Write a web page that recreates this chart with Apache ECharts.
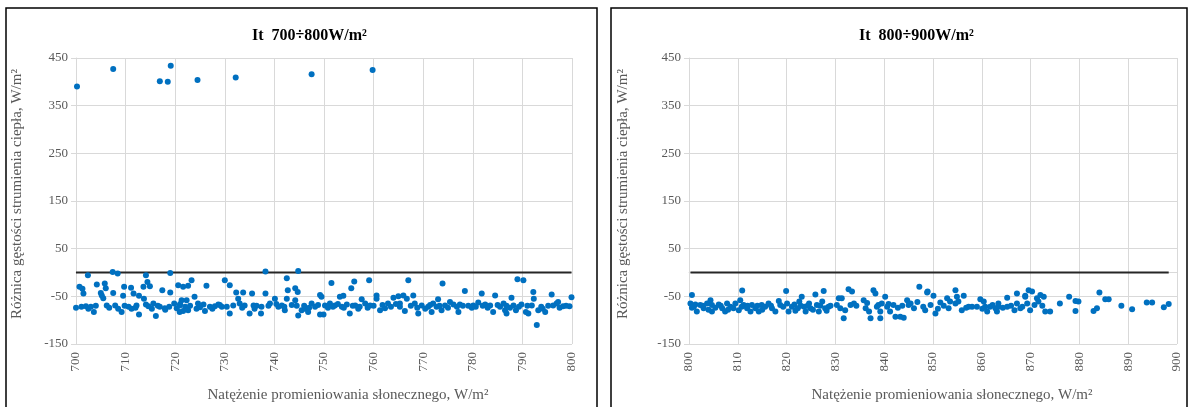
<!DOCTYPE html>
<html>
<head>
<meta charset="utf-8">
<script src="https://cdn.jsdelivr.net/npm/echarts@6/dist/echarts.min.js"></script>
<style>
  html, body { margin: 0; padding: 0; background: #fff; }
  #chart { width: 1190px; height: 407px; }
</style>
</head>
<body>
<div id="chart"></div>
<script>
// Panel titles and axis captions
const panelTitles = ['It  700÷800W/m²', 'It  800÷900W/m²'];
const yAxisName = 'Różnica gęstości strumienia ciepła, W/m²';
const xAxisName = 'Natężenie promieniowania słonecznego, W/m²';

// Axis ranges: [min, max, step]
const xRange700 = [700, 800, 10];
const xRange800 = [800, 900, 10];
const yRange = [-150, 450, 100];

// Measured points for irradiance 700–800 W/m²: [irradiance, heat flux difference]
const points700 = [
  [700.2, 390], [707.5, 427], [716.9, 401], [718.5, 400], [719.1, 434], [724.5, 404],
  [732.2, 409], [747.5, 416], [759.8, 425],
  [700.0, -74], [700.7, -30], [701.3, -34], [701.5, -44], [701.1, -72], [702.0, -71],
  [702.5, -76], [703.6, -83], [702.4, -6], [704.2, -25], [705.0, -43], [705.2, -48],
  [705.5, -54], [705.8, -23], [706.0, -33], [706.2, -69], [706.7, -74], [707.4, 1],
  [708.4, -2], [707.5, -43], [707.9, -69], [708.5, -76], [709.2, -83], [709.5, -49],
  [709.7, -30], [711.1, -32], [711.6, -44], [710.6, -72], [711.2, -76], [712.2, -69],
  [712.7, -49], [712.7, -88], [714.1, -6], [714.4, -20], [714.9, -29], [713.6, -30],
  [713.7, -55], [714.1, -67], [714.6, -71], [715.3, -76], [716.1, -91], [715.6, -65],
  [716.9, -72], [717.4, -37], [717.9, -75], [719.0, -1], [718.8, -72], [719.0, -42],
  [719.8, -65], [720.6, -27], [721.6, -30], [722.6, -28], [723.3, -16], [721.3, -58],
  [722.3, -58], [720.9, -69], [722.0, -72], [720.9, -83], [721.6, -81], [722.6, -79],
  [723.9, -51], [724.6, -65], [724.3, -76], [725.7, -67], [726.3, -28], [726.0, -81],
  [727.0, -72], [728.0, -71], [728.7, -67], [729.4, -72], [730.0, -16], [731.0, -27],
  [731.0, -86], [730.4, -72], [731.7, -69], [732.3, -42],
  [732.7, -55], [733.0, -65], [733.7, -42], [734.0, -69], [735.0, -86], [735.5, -44],
  [735.8, -69], [736.4, -70], [737.3, -86], [737.4, -72], [738.2, 2], [738.2, -44],
  [739.1, -65], [740.1, -55], [740.8, -72], [741.5, -69], [742.1, -79], [742.5, -12],
  [742.7, -37], [742.5, -55], [744.2, -33], [744.8, 3], [744.7, -41], [744.2, -58],
  [744.5, -70], [744.8, -90], [745.5, -79], [746.2, -76], [746.8, -83], [747.5, -65],
  [748.2, -72], [749.2, -47], [749.5, -51], [749.2, -88], [749.9, -88], [750.2, -69],
  [751.2, -65], [751.5, -22], [752.2, -69], [753.2, -51], [753.9, -49], [753.6, -72],
  [754.6, -67], [755.2, -86], [755.5, -33], [756.1, -19], [756.3, -69], [756.9, -76],
  [757.6, -56], [758.3, -65], [759.1, -16], [759.3, -69], [760.6, -48], [760.6, -55],
  [761.3, -79], [762.3, -75], [762.9, -65], [764.0, -53], [765.0, -50], [765.3, -72],
  [765.3, -65], [766.0, -48], [766.3, -81], [767.0, -16], [766.7, -55], [768.0, -48],
  [768.3, -65], [769.0, -86], [769.7, -69], [771.0, -72], [771.7, -83], [772.0, -65],
  [772.7, -72], [773.0, -56], [773.7, -79], [773.9, -23], [774.4, -69], [775.4, -62],
  [776.1, -67], [777.1, -83], [777.4, -67], [778.4, -39], [779.1, -70], [780.1, -69],
  [781.1, -63], [781.8, -44], [782.5, -67], [783.5, -69], [784.1, -83], [784.5, -48],
  [785.5, -72], [786.2, -65], [786.5, -79], [786.8, -86], [787.8, -53], [788.2, -69],
  [788.7, -79], [789.0, -14], [790.2, -16], [789.8, -67], [790.7, -83], [791.2, -86],
  [792.2, -41], [792.3, -55], [791.9, -69], [792.9, -110], [793.2, -79], [794.1, -76],
  [794.6, -83], [795.9, -46], [796.2, -69], [796.9, -65], [797.2, -62], [798.2, -71],
  [799.5, -71], [799.9, -52],
  [703.0, -72], [704.0, -70], [709.8, -70], [712.0, -74], [716.5, -70], [718.0, -78],
  [720.3, -75], [721.0, -66], [723.0, -70], [725.0, -73], [727.5, -76], [729.0, -68],
  [733.5, -74], [736.0, -76], [738.8, -70], [740.4, -66], [742.0, -72], [743.5, -68],
  [746.0, -70], [747.0, -74], [748.8, -68], [750.8, -74], [751.8, -72], [752.8, -66],
  [754.0, -74], [755.8, -70], [757.2, -72], [758.8, -74], [760.0, -70], [761.8, -68],
  [763.5, -72], [764.5, -66], [767.5, -70], [768.8, -74], [770.4, -76], [771.4, -68],
  [773.3, -70], [775.0, -74], [776.8, -72], [778.0, -70], [779.8, -74], [780.6, -72],
  [782.0, -70], [783.0, -74], [785.0, -68], [786.8, -70], [787.5, -74], [789.3, -72],
  [791.0, -70], [793.8, -72], [795.2, -70], [797.5, -74], [798.8, -70]
];

// Measured points for irradiance 800–900 W/m²
const points800 = [
  [800.6, -47], [800.3, -65], [800.6, -74], [801.3, -67], [801.6, -82], [802.3, -68],
  [803.0, -75], [803.7, -65], [804.4, -58], [804.7, -68], [804.7, -82], [805.4, -74],
  [806.1, -67], [806.8, -75], [807.4, -82], [807.8, -65], [808.5, -72], [809.1, -75],
  [809.5, -65], [810.2, -79], [810.9, -38], [810.5, -58], [811.2, -68], [811.9, -75],
  [812.6, -82], [812.9, -68], [813.6, -75], [814.3, -82], [814.9, -68], [815.6, -72],
  [816.3, -65], [817.0, -75], [817.7, -82], [818.4, -60], [818.7, -68], [819.9, -39],
  [820.1, -65], [820.4, -82], [821.1, -72], [821.6, -67], [822.3, -75], [822.6, -61],
  [823.1, -51], [823.6, -72], [823.9, -82], [824.6, -65], [824.9, -75], [825.9, -46],
  [826.2, -68], [826.6, -82], [827.3, -61], [827.6, -39], [827.9, -75], [828.6, -72],
  [830.7, -54], [831.3, -54], [831.0, -75], [831.7, -96], [832.0, -79], [832.7, -35],
  [833.4, -40], [833.1, -68], [833.8, -65], [835.8, -58], [836.2, -75], [836.9, -82],
  [837.2, -96], [837.8, -37], [838.2, -44], [838.5, -72], [839.2, -82], [839.2, -96],
  [839.5, -65], [840.2, -51], [840.6, -72], [841.2, -82], [841.9, -68], [842.3, -93],
  [843.3, -93], [844.0, -95], [844.7, -58], [845.4, -65], [846.1, -75], [847.2, -30],
  [848.9, -40],
  [848.8, -42], [848.4, -79], [850.1, -49], [851.5, -63], [850.5, -86], [852.9, -54],
  [853.5, -61], [853.2, -75], [854.6, -37], [854.9, -51], [855.2, -61], [854.6, -65],
  [856.3, -49], [855.9, -79], [857.3, -72], [859.0, -72], [859.7, -56], [860.4, -61],
  [860.7, -72], [861.1, -82], [861.7, -72], [862.8, -75], [863.1, -82], [863.4, -65],
  [863.4, -72], [865.2, -53], [865.2, -72], [866.7, -79], [867.2, -44], [867.2, -65],
  [867.9, -75], [868.9, -51], [869.3, -65], [868.9, -49], [869.6, -37], [870.3, -40],
  [869.9, -79], [871.3, -54], [872.0, -47], [872.7, -51], [871.6, -61], [873.0, -82],
  [874.0, -82], [876.0, -65], [877.9, -51], [879.2, -60], [879.8, -61], [879.2, -81],
  [882.9, -81], [883.6, -75], [884.1, -42], [885.3, -56], [886.0, -56], [888.6, -70],
  [890.8, -77], [893.8, -63], [894.9, -63], [897.3, -73], [898.3, -66],
  [801.0, -72], [802.8, -70], [804.0, -78], [806.5, -70], [808.0, -78], [810.8, -72],
  [812.0, -70], [814.0, -70], [815.0, -78], [816.8, -70], [819.3, -72], [821.8, -80],
  [822.9, -70], [824.3, -70], [825.4, -78], [826.9, -70], [828.2, -80], [829.0, -70],
  [830.3, -68], [834.3, -70], [836.5, -64], [838.8, -68], [840.9, -66], [842.8, -74],
  [843.7, -70], [845.0, -68], [846.8, -62], [848.0, -72], [849.5, -68], [851.0, -76],
  [852.2, -70], [856.8, -74], [858.0, -72], [860.1, -76], [862.2, -68], [864.3, -74],
  [866.0, -70], [868.3, -72], [870.8, -68], [872.4, -70]
];

// Reference line at zero spans the measured irradiance range
function zeroLine(points) {
  const xs = points.map(p => p[0]);
  return [[Math.min(...xs), 0], [Math.max(...xs), 0]];
}

const serif = "'Liberation Serif', 'DejaVu Serif', serif";
const labelGray = '#595959';
const gridGray = '#d9d9d9';
const dotBlue = '#0070c0';

function xAxisFor(gridIndex, range, namePad) {
  return {
    type: 'value', gridIndex,
    min: range[0], max: range[1], interval: range[2],
    name: xAxisName, nameLocation: 'middle', nameGap: 44,
    nameTextStyle: { fontFamily: serif, fontSize: 15, color: labelGray, padding: [0, 0, 0, namePad] },
    axisLine: { show: true, lineStyle: { color: gridGray, width: 1 } },
    axisTick: { show: true, length: 5, lineStyle: { color: gridGray } },
    axisLabel: { rotate: 90, fontFamily: serif, fontSize: 13, color: labelGray, margin: 8 },
    splitLine: { show: true, lineStyle: { color: gridGray, width: 1 } }
  };
}

function yAxisFor(gridIndex, nameGap) {
  return {
    type: 'value', gridIndex,
    min: yRange[0], max: yRange[1], interval: yRange[2],
    name: yAxisName, nameLocation: 'middle', nameGap,
    nameTextStyle: { fontFamily: serif, fontSize: 15, color: labelGray, padding: [0, 0, 0, 14] },
    axisLine: { show: true, lineStyle: { color: gridGray, width: 1 } },
    axisTick: { show: true, length: 5, lineStyle: { color: gridGray } },
    axisLabel: { fontFamily: serif, fontSize: 13, color: labelGray, margin: 8 },
    splitLine: { show: true, lineStyle: { color: gridGray, width: 1 } }
  };
}

function scatterFor(index, points) {
  return {
    type: 'scatter', xAxisIndex: index, yAxisIndex: index,
    data: points, symbol: 'circle', symbolSize: 6,
    itemStyle: { color: dotBlue, opacity: 1 },
    silent: true, z: 3
  };
}

function zeroFor(index, points) {
  return {
    type: 'line', xAxisIndex: index, yAxisIndex: index,
    data: zeroLine(points), symbol: 'none',
    lineStyle: { color: '#262626', width: 2 },
    silent: true, z: 2
  };
}

const chart = echarts.init(document.getElementById('chart'), null, { renderer: 'canvas' });

chart.setOption({
  animation: false,
  backgroundColor: '#ffffff',
  title: [
    { text: panelTitles[0], left: 247, top: 23,
      textStyle: { fontFamily: serif, fontSize: 16, fontWeight: 'bold', color: '#000' } },
    { text: panelTitles[1], left: 854, top: 23,
      textStyle: { fontFamily: serif, fontSize: 16, fontWeight: 'bold', color: '#000' } }
  ],
  graphic: [
    { type: 'rect', shape: { x: 6, y: 8, width: 591, height: 410 },
      style: { fill: 'none', stroke: '#000', lineWidth: 1.5 }, silent: true },
    { type: 'rect', shape: { x: 611, y: 8, width: 576, height: 410 },
      style: { fill: 'none', stroke: '#000', lineWidth: 1.5 }, silent: true }
  ],
  grid: [
    { left: 76, top: 58, width: 496, height: 286, outerBoundsMode: 'none' },
    { left: 689, top: 58, width: 488, height: 286, outerBoundsMode: 'none' }
  ],
  xAxis: [xAxisFor(0, xRange700, 48), xAxisFor(1, xRange800, 38)],
  yAxis: [yAxisFor(0, 51), yAxisFor(1, 58)],
  series: [
    zeroFor(0, points700), scatterFor(0, points700),
    zeroFor(1, points800), scatterFor(1, points800)
  ]
});
</script>
</body>
</html>
